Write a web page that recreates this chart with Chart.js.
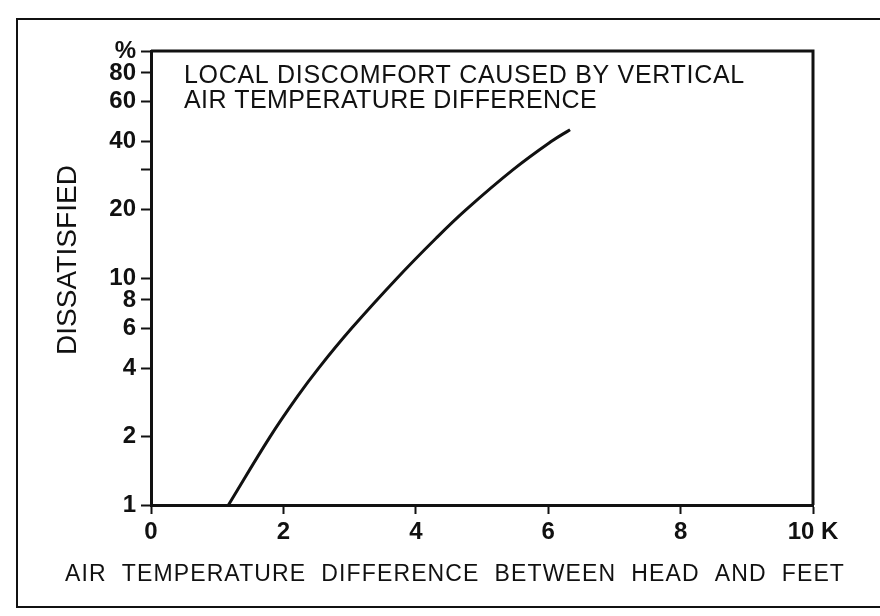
<!DOCTYPE html>
<html>
<head>
<meta charset="utf-8">
<script src="https://cdn.jsdelivr.net/npm/chart.js@4.4.1/dist/chart.umd.min.js"></script>
<style>
  html, body { margin: 0; padding: 0; background: #fff; }
  #wrap { position: relative; width: 880px; height: 616px; overflow: hidden; }
  #moldura { position: absolute; left: 16px; top: 18px; width: 880px; height: 590px; border: 2px solid #111; border-right: none; box-sizing: border-box; }
  #grafico { position: absolute; left: 0; top: 0; }
</style>
</head>
<body>
<div id="wrap">
  <div id="moldura"></div>
  <canvas id="grafico" width="880" height="616"></canvas>
</div>
<script>
 // curva: diferença de temperatura (K) x % insatisfeitos
 var diferenca = [1.17, 1.80, 2.21, 2.53, 3.03, 3.72, 4.31, 4.76, 5.47, 6.05, 6.33];
 var insatisfeitos = [1, 2, 3, 4, 6, 10, 15, 20, 30, 40, 45];

 // marcas dos eixos
 var ticksY = [1, 2, 4, 6, 8, 10, 20, 30, 40, 60, 80, 100];
 var rotulosY = ['1', '2', '4', '6', '8', '10', '20', '', '40', '60', '80', '%'];
 var ticksX = [0, 2, 4, 6, 8, 10];
 var rotulosX = ['0', '2', '4', '6', '8', '10 K'];

 var titulo = ['LOCAL DISCOMFORT CAUSED BY VERTICAL', 'AIR TEMPERATURE DIFFERENCE'];
 var tituloX = 'AIR  TEMPERATURE  DIFFERENCE  BETWEEN  HEAD  AND  FEET';
 var tituloY = 'DISSATISFIED';

 var fonte = "'Liberation Sans', Arial, sans-serif";
 var preto = '#111';

 // escreve um texto esticado até a largura pedida
 function texto(c, s, x, y, largura) {
   c.letterSpacing = '0px';
   var w = c.measureText(s).width;
   var extra = (largura - w) / s.length;
   c.letterSpacing = extra.toFixed(2) + 'px';
   c.fillText(s, x, y);
   c.letterSpacing = '0px';
 }

 // moldura superior/direita, títulos dos eixos e texto dentro do gráfico
 var quadro = {
   id: 'quadro',
   afterDraw: function (chart) {
     var a = chart.chartArea;
     var c = chart.ctx;
     c.save();
     c.strokeStyle = preto;
     c.lineWidth = 3;
     c.beginPath();
     c.moveTo(a.left, a.top);
     c.lineTo(a.right, a.top);
     c.lineTo(a.right, a.bottom);
     c.stroke();

     c.fillStyle = preto;
     c.textBaseline = 'alphabetic';
     c.textAlign = 'left';
     c.font = '25px ' + fonte;
     texto(c, titulo[0], a.left + 33, a.top + 32, 561);
     texto(c, titulo[1], a.left + 33, a.top + 57, 413);

     c.textAlign = 'center';
     c.textBaseline = 'middle';
     c.font = '23px ' + fonte;
     texto(c, tituloX, 455, 575, 780);

     c.translate(68, 260);
     c.rotate(-Math.PI / 2);
     c.font = '28px ' + fonte;
     texto(c, tituloY, 0, 0, 190);
     c.restore();
   }
 };

 var ctx = grafico.getContext('2d');

 var curva = new Chart(ctx, {
   type: 'line',
   data: {
     datasets: [{
       label: 'Dissatisfied',
       data: diferenca.map(function (x, i) { return { x: x, y: insatisfeitos[i] }; }),
       borderColor: preto,
       borderWidth: 3,
       pointRadius: 0,
       tension: 0.4,
       fill: false
     }]
   },
   options: {
     responsive: false,
     animation: false,
     devicePixelRatio: 1,
     layout: { padding: { left: 40, right: 67, top: 51, bottom: 16 } },
     plugins: {
       legend: { display: false },
       tooltip: { enabled: false }
     },
     scales: {
       x: {
         type: 'linear',
         min: 0,
         max: 10,
         afterBuildTicks: function (s) { s.ticks = ticksX.map(function (v) { return { value: v }; }); },
         afterFit: function (s) { s.height = 95; },
         grid: { drawOnChartArea: false, drawTicks: true, tickLength: 9, tickColor: preto, tickWidth: 2 },
         border: { display: true, color: preto, width: 3 },
         ticks: {
           autoSkip: false,
           maxRotation: 0,
           padding: 4,
           color: preto,
           font: { family: fonte, size: 24, weight: 'bold' },
           callback: function (v) { return rotulosX[ticksX.indexOf(v)]; }
         }
       },
       y: {
         type: 'logarithmic',
         min: 1,
         max: 100,
         afterBuildTicks: function (s) { s.ticks = ticksY.map(function (v) { return { value: v }; }); },
         afterFit: function (s) { s.width = 111; },
         grid: { drawOnChartArea: false, drawTicks: true, tickLength: 10, tickColor: preto, tickWidth: 2 },
         border: { display: true, color: preto, width: 3 },
         ticks: {
           autoSkip: false,
           padding: 5,
           color: preto,
           font: { family: fonte, size: 24, weight: 'bold' },
           callback: function (v) { return rotulosY[ticksY.indexOf(v)]; }
         }
       }
     }
   },
   plugins: [quadro]
 });
</script>
</body>
</html>
